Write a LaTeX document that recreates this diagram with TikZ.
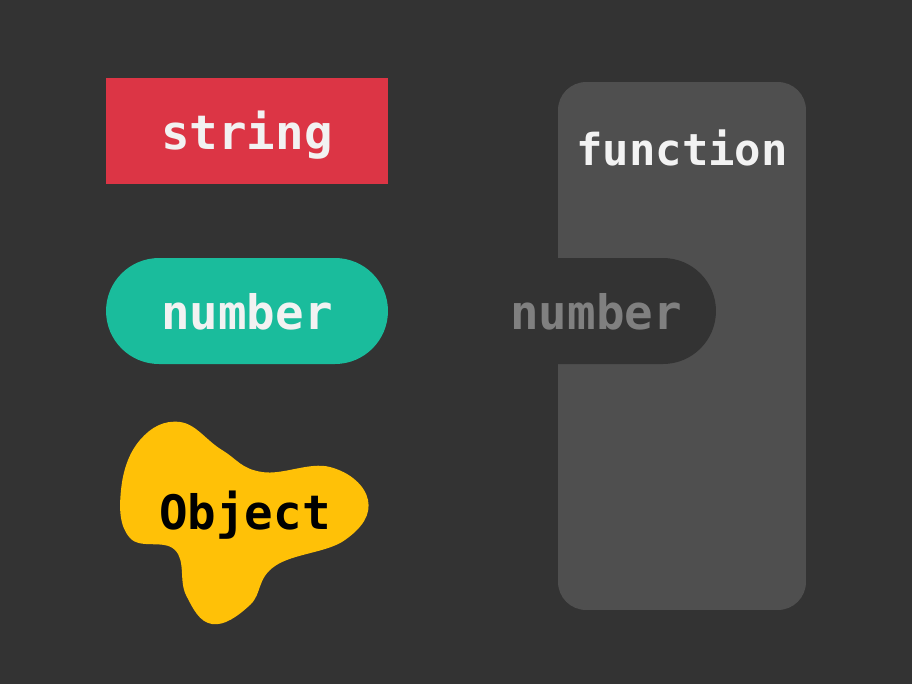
\documentclass[tikz,border=0pt]{standalone}
\usepackage{fontspec}
\setmonofont{DejaVu Sans Mono}
\usepackage{xcolor}
\definecolor{bg}{HTML}{333333}
\definecolor{panel}{HTML}{4F4F4F}
\definecolor{strred}{HTML}{DC3545}
\definecolor{numgreen}{HTML}{1ABC9C}
\definecolor{objyellow}{HTML}{FFC107}
\definecolor{txtlight}{HTML}{F2F2F2}
\definecolor{txtdim}{HTML}{808080}
\tikzset{
    lbl/.style={font=\ttfamily\bfseries\fontsize{27}{27}\selectfont, text=txtlight, inner sep=0pt},
    tag/.style={lbl, minimum width=5.64cm, minimum height=2.12cm, text height=21pt, text depth=0pt},
    pill/.style={tag, rounded corners=1.06cm},
    fnlbl/.style={lbl, font=\ttfamily\bfseries\fontsize{25}{25}\selectfont, anchor=base}
}

\begin{document}
\begin{tikzpicture}[x=0.02cm, y=-0.02cm]
        \fill[bg] (0,0) rectangle (912,684);
        \node[tag, fill=strred] (str) at (247,131) {string};
        \node[pill, fill=numgreen] (num) at (247,311) {number};

        % object blob
        \fill[objyellow] plot[smooth cycle, tension=0.7] coordinates {
            (180,422) (222,450) (262,472) (330,467) (368,500) (345,540)
            (275,566) (250,605) (212,624) (186,595) (175,550) (130,538)
            (121,490) (140,440)};
        \node[lbl, anchor=base, text=black] (obj) at (245,529) {Object};

        \node[fill=panel, rounded corners=0.56cm, inner sep=0pt,
              minimum width=4.96cm, minimum height=10.56cm] (fn) at (682,346) {};
        \node[fnlbl] (fnname) at (682,165) {function};
        \node[pill, fill=bg, minimum width=4.8cm, text=txtdim] (arg) at (596,311) {number};
    \end{tikzpicture}
\end{document}
